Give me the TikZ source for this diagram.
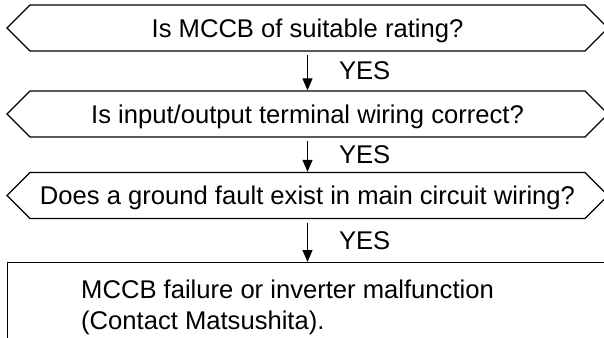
\documentclass[tikz,border=0pt]{standalone}
\usepackage{fontspec}
\setmainfont{Liberation Sans}
\usetikzlibrary{arrows.meta, shapes.symbols, positioning}

\begin{document}
\begin{tikzpicture}[
    x=1bp, y=-1bp,
    font=\fontsize{25.7}{31}\selectfont,
    question_style/.style={draw, line width=1.3bp, shape=signal,
      signal to=west and east, signal pointer angle=90,
      minimum width=601bp, minimum height=46bp, inner sep=0pt,
      text height=22bp, text depth=4bp},
    result_style/.style={draw, line width=1.3bp, rectangle,
      minimum width=620bp, minimum height=100bp, inner sep=0pt},
    arrow_style/.style={line width=1.1bp, shorten <=3.5bp,
      -{Triangle[length=12bp,width=10bp]}},
    yes_style/.style={anchor=west, inner sep=0pt, xshift=31bp}
]
    \useasboundingbox (0,0) rectangle (604,337);
    \clip (0,0) rectangle (604,337);

    % --- Questions ---
    \node[question_style] (q1) at (307.5,28)  {Is MCCB of suitable rating?};
    \node[question_style] (q2) at (307.5,114) {Is input/output terminal wiring correct?};
    \node[question_style] (q3) at (307.5,195.5)
        {Does a ground fault exist in main circuit wiring?};

    % --- Resultat ---
    \node[result_style, anchor=north west] (res) at (7,262) {};
    \node[anchor=north west, align=left, inner sep=0pt]
        (res_text) at ([xshift=74bp, yshift=-18bp]res.north west)
        {MCCB failure or inverter malfunction\\(Contact Matsushita).};

    % --- Fleches YES ---
    \draw[arrow_style] (q1.south) -- (q2.north)
        node[midway, yes_style] {YES};
    \draw[arrow_style] (q2.south) -- (q3.north)
        node[midway, yes_style] {YES};
    \draw[arrow_style] (q3.south) -- (q3.south |- res.north)
        node[midway, yes_style] {YES};
\end{tikzpicture}
\end{document}
